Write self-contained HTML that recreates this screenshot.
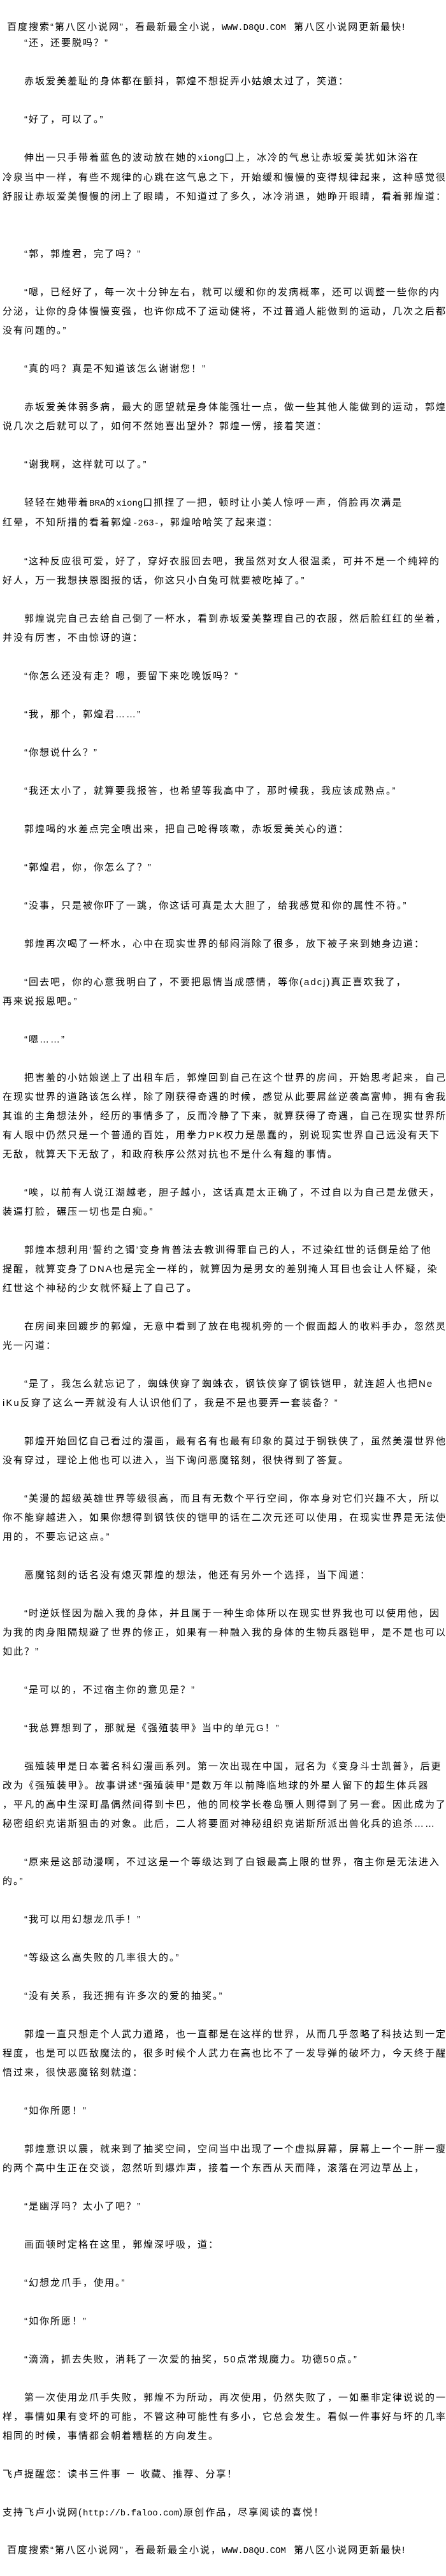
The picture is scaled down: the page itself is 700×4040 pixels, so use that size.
<!DOCTYPE html>
<html><head><meta charset="utf-8">
<style>
html,body{margin:0;padding:0;background:#fff;}
body{width:700px;height:4040px;position:relative;overflow:hidden;color:#000;
font-family:"Liberation Sans","Noto Sans CJK SC","WenQuanYi Zen Hei",sans-serif;font-size:15px;letter-spacing:2px;}
.t{position:absolute;left:4px;top:53px;line-height:30px;white-space:pre;}
.h{position:absolute;left:11px;line-height:30px;white-space:pre;}
.m{font-family:"Liberation Mono",monospace;letter-spacing:0;font-size:14px;}
</style></head><body>
<div class="h" style="top:28px">百度搜索“第八区小说网”，看最新最全小说，<span class="m">WWW.D8QU.COM</span>  第八区小说网更新最快!</div>
<div class="t">　　“还，还要脱吗？”

　　赤坂爱美羞耻的身体都在颤抖，郭煌不想捉弄小姑娘太过了，笑道：

　　“好了，可以了。”

　　伸出一只手带着蓝色的波动放在她的<span class="m">xiong</span>口上，冰冷的气息让赤坂爱美犹如沐浴在
冷泉当中一样，有些不规律的心跳在这气息之下，开始缓和慢慢的变得规律起来，这种感觉很
舒服让赤坂爱美慢慢的闭上了眼睛，不知道过了多久，冰冷消退，她睁开眼睛，看着郭煌道：


　　“郭，郭煌君，完了吗？”

　　“嗯，已经好了，每一次十分钟左右，就可以缓和你的发病概率，还可以调整一些你的内
分泌，让你的身体慢慢变强，也许你成不了运动健将，不过普通人能做到的运动，几次之后都
没有问题的。”

　　“真的吗？真是不知道该怎么谢谢您！”

　　赤坂爱美体弱多病，最大的愿望就是身体能强壮一点，做一些其他人能做到的运动，郭煌
说几次之后就可以了，如何不然她喜出望外？郭煌一愣，接着笑道：

　　“谢我啊，这样就可以了。”

　　轻轻在她带着<span class="m">BRA</span>的<span class="m">xiong</span>口抓捏了一把，顿时让小美人惊呼一声，俏脸再次满是
红晕，不知所措的看着郭煌<span class="m">-263-</span>，郭煌哈哈笑了起来道：

　　“这种反应很可爱，好了，穿好衣服回去吧，我虽然对女人很温柔，可并不是一个纯粹的
好人，万一我想挟恩图报的话，你这只小白兔可就要被吃掉了。”

　　郭煌说完自己去给自己倒了一杯水，看到赤坂爱美整理自己的衣服，然后脸红红的坐着，
并没有厉害，不由惊讶的道：

　　“你怎么还没有走？嗯，要留下来吃晚饭吗？”

　　“我，那个，郭煌君……”

　　“你想说什么？”

　　“我还太小了，就算要我报答，也希望等我高中了，那时候我，我应该成熟点。”

　　郭煌喝的水差点完全喷出来，把自己呛得咳嗽，赤坂爱美关心的道：

　　“郭煌君，你，你怎么了？”

　　“没事，只是被你吓了一跳，你这话可真是太大胆了，给我感觉和你的属性不符。”

　　郭煌再次喝了一杯水，心中在现实世界的郁闷消除了很多，放下被子来到她身边道：

　　“回去吧，你的心意我明白了，不要把恩情当成感情，等你(adcj)真正喜欢我了，
再来说报恩吧。”

　　“嗯……”

　　把害羞的小姑娘送上了出租车后，郭煌回到自己在这个世界的房间，开始思考起来，自己
在现实世界的道路该怎么样，除了刚获得奇遇的时候，感觉从此要屌丝逆袭高富帅，拥有舍我
其谁的主角想法外，经历的事情多了，反而冷静了下来，就算获得了奇遇，自己在现实世界所
有人眼中仍然只是一个普通的百姓，用拳力PK权力是愚蠢的，别说现实世界自己远没有天下
无敌，就算天下无敌了，和政府秩序公然对抗也不是什么有趣的事情。

　　“唉，以前有人说江湖越老，胆子越小，这话真是太正确了，不过自以为自己是龙傲天，
装逼打脸，碾压一切也是白痴。”

　　郭煌本想利用‘誓约之镯’变身肯普法去教训得罪自己的人，不过染红世的话倒是给了他
提醒，就算变身了DNA也是完全一样的，就算因为是男女的差别掩人耳目也会让人怀疑，染
红世这个神秘的少女就怀疑上了自己了。

　　在房间来回踱步的郭煌，无意中看到了放在电视机旁的一个假面超人的收料手办，忽然灵
光一闪道：

　　“是了，我怎么就忘记了，蜘蛛侠穿了蜘蛛衣，钢铁侠穿了钢铁铠甲，就连超人也把Ne
iKu反穿了这么一弄就没有人认识他们了，我是不是也要弄一套装备？”

　　郭煌开始回忆自己看过的漫画，最有名有也最有印象的莫过于钢铁侠了，虽然美漫世界他
没有穿过，理论上他也可以进入，当下询问恶魔铭刻，很快得到了答复。

　　“美漫的超级英雄世界等级很高，而且有无数个平行空间，你本身对它们兴趣不大，所以
你不能穿越进入，如果你想得到钢铁侠的铠甲的话在二次元还可以使用，在现实世界是无法使
用的，不要忘记这点。”

　　恶魔铭刻的话名没有熄灭郭煌的想法，他还有另外一个选择，当下闻道：

　　“时逆妖怪因为融入我的身体，并且属于一种生命体所以在现实世界我也可以使用他，因
为我的肉身阻隔规避了世界的修正，如果有一种融入我的身体的生物兵器铠甲，是不是也可以
如此？”

　　“是可以的，不过宿主你的意见是？”

　　“我总算想到了，那就是《强殖装甲》当中的单元G！”

　　强殖装甲是日本著名科幻漫画系列。第一次出现在中国，冠名为《变身斗士凯普》，后更
改为《强殖装甲》。故事讲述“强殖装甲”是数万年以前降临地球的外星人留下的超生体兵器
，平凡的高中生深町晶偶然间得到卡巴，他的同校学长卷岛顎人则得到了另一套。因此成为了
秘密组织克诺斯狙击的对象。此后，二人将要面对神秘组织克诺斯所派出兽化兵的追杀……

　　“原来是这部动漫啊，不过这是一个等级达到了白银最高上限的世界，宿主你是无法进入
的。”

　　“我可以用幻想龙爪手！”

　　“等级这么高失败的几率很大的。”

　　“没有关系，我还拥有许多次的爱的抽奖。”

　　郭煌一直只想走个人武力道路，也一直都是在这样的世界，从而几乎忽略了科技达到一定
程度，也是可以匹敌魔法的，很多时候个人武力在高也比不了一发导弹的破坏力，今天终于醒
悟过来，很快恶魔铭刻就道：

　　“如你所愿！”

　　郭煌意识以震，就来到了抽奖空间，空间当中出现了一个虚拟屏幕，屏幕上一个一胖一瘦
的两个高中生正在交谈，忽然听到爆炸声，接着一个东西从天而降，滚落在河边草丛上，

　　“是幽浮吗？太小了吧？”

　　画面顿时定格在这里，郭煌深呼吸，道：

　　“幻想龙爪手，使用。”

　　“如你所愿！”

　　“滴滴，抓去失败，消耗了一次爱的抽奖，50点常规魔力。功德50点。”

　　第一次使用龙爪手失败，郭煌不为所动，再次使用，仍然失败了，一如墨非定律说说的一
样，事情如果有变坏的可能，不管这种可能性有多小，它总会发生。看似一件事好与坏的几率
相同的时候，事情都会朝着糟糕的方向发生。

飞卢提醒您：读书三件事 － 收藏、推荐、分享！

支持飞卢小说网(<span class="m">http://b.faloo.com</span>)原创作品，尽享阅读的喜悦！</div>
<div class="h" style="top:3985px">百度搜索“第八区小说网”，看最新最全小说，<span class="m">WWW.D8QU.COM</span>  第八区小说网更新最快!</div>
</body></html>
